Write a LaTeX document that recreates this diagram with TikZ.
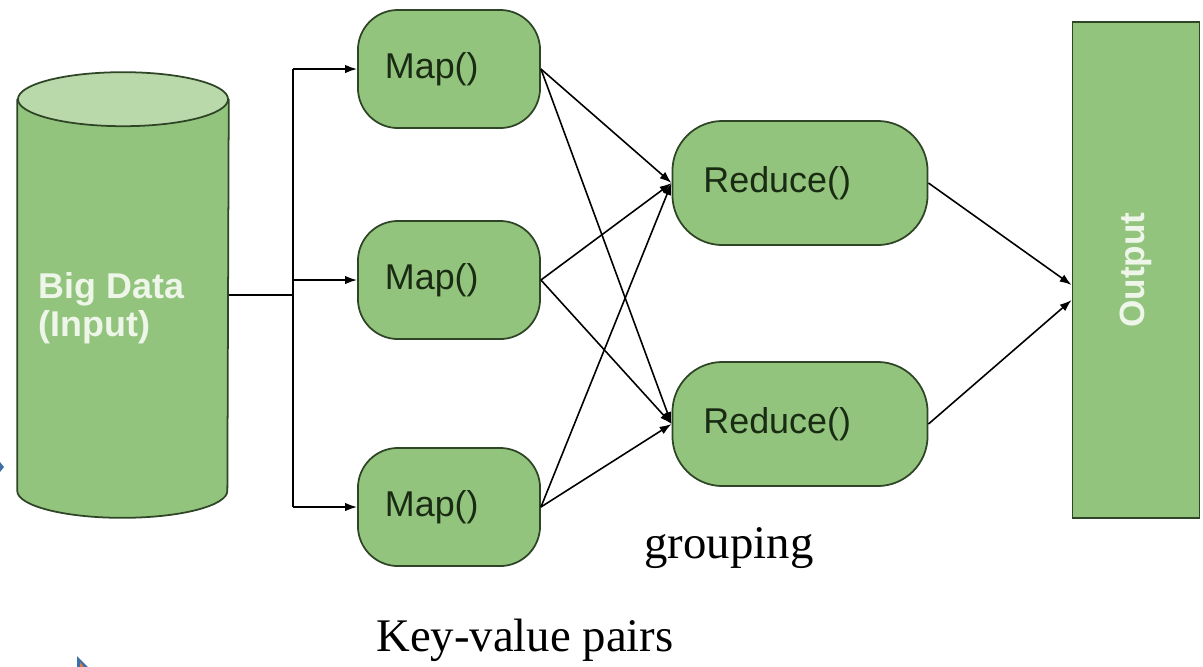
\documentclass[tikz,border=0pt]{standalone}
\usepackage{fontspec}
\setmainfont{Liberation Serif}
\setsansfont{Liberation Sans}
\usepackage{graphicx}
\usetikzlibrary{positioning,arrows.meta}

\definecolor{boxgreen}{HTML}{93C47D}
\definecolor{topgreen}{HTML}{B9D9AB}
\definecolor{edgegreen}{HTML}{2E4526}
\definecolor{inkgreen}{HTML}{1A2B14}
\definecolor{palegreen}{HTML}{EEF6E9}
\definecolor{bulletblue}{HTML}{3E6FA8}
\definecolor{bulletorange}{HTML}{E07B39}

\begin{document}
\begin{tikzpicture}[x=0.01cm, y=-0.01cm,
	mapbox/.style={rectangle, rounded corners=0.4cm, draw=edgegreen, fill=boxgreen, line width=0.5pt,
		minimum width=1.82cm, minimum height=1.18cm, text width=1.28cm, inner xsep=0.27cm,
		align=left, text=inkgreen, font=\sffamily\fontsize{10.2}{12}\selectfont},
	redbox/.style={mapbox, rounded corners=0.5cm, minimum width=2.55cm, minimum height=1.24cm,
		text width=1.93cm, inner xsep=0.31cm},
	boldtext/.style={text=palegreen, font=\sffamily\bfseries\fontsize{10.2}{10.8}\selectfont},
	flow/.style={line width=0.45pt, -{Latex[length=3.4pt,width=2.4pt]}},
	note/.style={font=\rmfamily\fontsize{13.3}{15}\selectfont}
]
\useasboundingbox (0,0) rectangle (1203,666);

% input cylinder
\node[minimum width=2.1cm, minimum height=3.9cm, inner sep=0] (cyl) at (123,295) {};
\fill[boxgreen] (cyl.north west) -- (cyl.south west)
	arc[start angle=180, end angle=360, x radius=1.05cm, y radius=0.27cm] -- (cyl.north east) -- cycle;
\draw[edgegreen, line width=0.5pt] (cyl.north west) -- (cyl.south west)
	arc[start angle=180, end angle=360, x radius=1.05cm, y radius=0.27cm] -- (cyl.north east);
\draw[edgegreen, fill=topgreen, line width=0.5pt] (cyl.north) ellipse[x radius=1.05cm, y radius=0.27cm];
\node[boldtext, align=left, anchor=west, inner sep=0] (data) at (38,308) {Big Data\\(Input)};

% map and reduce steps
\node[mapbox] (map1) at (449,69) {Map()};
\node[mapbox] (map2) at (449,280) {Map()};
\node[mapbox] (map3) at (449,507) {Map()};
\node[redbox] (red1) at (800,183) {Reduce()};
\node[redbox] (red2) at (800,424) {Reduce()};

% output
\node[rectangle, draw=edgegreen, fill=boxgreen, line width=0.5pt, minimum width=1.27cm, minimum height=4.95cm,
	boldtext, font=\sffamily\bfseries\fontsize{10}{12}\selectfont] (out) at (1136,270) {\rotatebox{90}{Output}};
\coordinate (in1) at ([yshift=-0.15cm]out.west);
\coordinate (in2) at ([yshift=-0.3cm]out.west);

% connectors
\coordinate[right=0.64cm of cyl.east] (split);
\draw[line width=0.45pt] (cyl.east) -- (split);
\draw[line width=0.45pt] (split |- map1.west) -- (split |- map3.west);
\foreach \m in {map1,map2,map3} {
	\draw[flow] (split |- \m.west) -- (\m.west);
	\draw[flow] (\m.east) -- (red1.west);
	\draw[flow] (\m.east) -- (red2.west);
};
\draw[flow] (red1.east) -- (in1);
\draw[flow] (red2.east) -- (in2);

% labels
\node[note] (grp) at (729,548) {grouping};
\node[note] (kv) at (525,640) {Key-value pairs};

% slide bullets
\fill[bulletblue] (77,656) -- (77,672) -- (93,672) -- cycle;
\fill[bulletorange] (80,662) -- (80,670) -- (86,670) -- cycle;
\fill[bulletblue] (0,462) -- (4,467) -- (0,472) -- cycle;
\end{tikzpicture}
\end{document}
